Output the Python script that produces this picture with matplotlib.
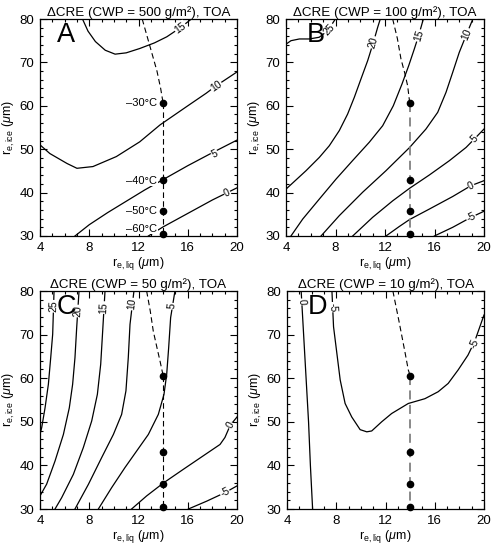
import numpy as np
import matplotlib.pyplot as plt
from matplotlib.ticker import MultipleLocator

plt.rcParams['font.family'] = ['Liberation Sans', 'DejaVu Sans']
plt.rcParams['mathtext.fontset'] = 'custom'
plt.rcParams['mathtext.rm'] = 'Liberation Sans'
plt.rcParams['mathtext.it'] = 'Liberation Sans:italic'

# temperature points on the dashed path (x = r_e,liq, y = r_e,ice)
temp_x = 14.0
temp_y = [60.6, 43.0, 35.8, 30.4]
temp_labels = ['\u201330\u00b0C', '\u201340\u00b0C', '\u201350\u00b0C', '\u201360\u00b0C']

cwp_values = [500, 100, 50, 10]
panel_letters = ['A', 'B', 'C', 'D']

# ---- panel A (CWP = 500) contour lines
a15_x = [7.45, 7.9, 8.5, 9.3, 10.1, 11.0, 12.1, 13.3, 14.3, 15.4, 16.3]
a15_y = [80, 77.2, 74.8, 72.8, 71.9, 72.2, 73.2, 74.5, 75.9, 78.0, 80]
a10_x = [4, 4.8, 6.2, 7.0, 8.3, 10.2, 12.1, 13.75, 15.9, 17.5, 18.3, 20]
a10_y = [51.0, 49.0, 46.7, 45.6, 46.0, 48.3, 51.7, 55.6, 59.8, 62.9, 64.6, 67.8]
a5_x = [6.84, 8, 9.5, 11, 12.5, 14, 16, 18, 20]
a5_y = [30, 32.6, 35.4, 38.0, 40.6, 43.0, 46.2, 49.2, 52.1]
a0_x = [12.8, 14, 16, 18, 20]
a0_y = [30, 32.1, 35.2, 38.3, 41.1]
a_dash_x = [12.3, 12.7, 13.1, 13.5, 13.8, 14.0, 14.0]
a_dash_y = [80, 76, 72, 68, 64, 60.6, 30]

# ---- panel B (CWP = 100)
b25_x = [4, 4.4, 5.08, 5.89, 6.69, 7.37, 7.9, 7.99]
b25_y = [74.2, 75.0, 75.4, 75.4, 75.8, 77.3, 79.6, 80]
b20_x = [4, 5.62, 6.69, 7.50, 8.31, 8.98, 9.52, 10.06, 10.60, 11.06, 11.41, 11.62]
b20_y = [40.8, 45.05, 48.1, 50.8, 54.3, 58.1, 61.95, 66.2, 70.4, 74.6, 78.1, 80]
b15_x = [4.40, 5.35, 6.69, 8.04, 9.39, 10.73, 11.81, 12.67, 13.37, 13.91, 14.37, 14.72, 15.1]
b15_y = [30, 33.9, 38.5, 43.1, 47.4, 51.6, 55.4, 60.0, 65.0, 69.2, 73.1, 76.2, 80]
b10_x = [6.83, 8.31, 10.2, 12.08, 13.99, 15.31, 16.26, 16.93, 17.47, 18.0, 18.55, 19.1]
b10_y = [30, 34.7, 40.1, 45.05, 50.4, 54.65, 58.5, 63.1, 67.7, 72.3, 76.2, 80]
b5_x = [9.39, 11.0, 12.62, 13.99, 15.58, 17.2, 18.55, 19.22, 20]
b5_y = [30, 34.3, 38.1, 41.0, 44.05, 47.35, 50.4, 52.35, 54.65]
b0_x = [12.08, 13.16, 13.99, 15.58, 17.47, 18.95, 20]
b0_y = [30, 32.2, 33.8, 36.2, 39.1, 41.6, 42.75]
bm5_x = [15.99, 17.47, 18.95, 20]
bm5_y = [30, 32.0, 34.3, 35.7]
b_dash_x = [12.62, 13.0, 13.29, 13.6, 13.83, 14.0, 14.0]
b_dash_y = [80, 75.5, 70.8, 67.5, 64.6, 60.6, 30]

# ---- panel C (CWP = 50)
c25_x = [4, 4.14, 4.41, 4.68, 4.87, 5.03, 5.14]
c25_y = [47.1, 48.7, 53.2, 58.6, 64.7, 70.1, 80]
c20_x = [4, 4.54, 5.22, 5.9, 6.38, 6.65, 6.84, 6.98, 7.17]
c20_y = [33.0, 35.7, 41.0, 47.1, 53.2, 58.6, 64.7, 71.6, 80]
c15_x = [5.22, 5.76, 6.71, 7.52, 8.2, 8.66, 8.93, 9.09, 9.28]
c15_y = [30, 32.6, 37.95, 44.1, 50.2, 56.3, 63.2, 70.8, 80]
c10_x = [6.84, 7.93, 9.01, 9.96, 10.63, 10.98, 11.17, 11.31, 11.63]
c10_y = [30, 35.65, 41.8, 47.1, 51.7, 57.1, 64.7, 72.35, 80]
c5_x = [8.74, 9.82, 10.9, 11.85, 12.8, 13.61, 14.07, 14.29, 14.45, 14.61, 14.96]
c5_y = [30, 34.9, 39.5, 43.3, 47.1, 51.7, 56.3, 60.9, 67.0, 73.9, 80]
c0_x = [11.44, 12.66, 14.04, 15.64, 17.26, 18.62, 19.02, 19.45, 20]
c0_y = [30, 33.0, 36.0, 39.1, 42.2, 44.8, 46.4, 49.2, 51.1]
cm5_x = [16.05, 17.54, 19.02, 20]
cm5_y = [30, 31.8, 33.75, 35.3]
c_dash_x = [12.66, 12.95, 13.2, 13.5, 13.75, 14.0, 14.0]
c_dash_y = [80, 75.5, 70.8, 67.0, 63.9, 60.6, 30]

# ---- panel D (CWP = 10)
d0_x = [5.15, 5.35, 5.55, 5.75, 5.9, 6.08]
d0_y = [80, 70, 60, 50, 40, 30]
dm5_x = [7.65, 7.78, 8.05, 8.32, 8.72, 9.26, 9.94, 10.48, 10.88, 11.69, 12.5,
         13.85, 15.2, 16.28, 17.09, 17.9, 18.7, 19.25, 20]
dm5_y = [80, 71.8, 65.7, 59.6, 54.2, 51.1, 48.2, 47.7, 47.9, 50.0, 51.9,
         54.2, 55.3, 56.9, 58.8, 61.9, 65.3, 68.5, 74.5]
d_dash_x = [12.6, 13.1, 13.6, 13.85, 14.0, 14.0]
d_dash_y = [80, 73, 65.7, 61.9, 60.6, 30]

panels = [
    dict(lines=[(a15_x, a15_y), (a10_x, a10_y), (a5_x, a5_y), (a0_x, a0_y)],
         labels=[('15', 15.4, 78.0, 0), ('10', 18.3, 64.6, 1), ('5', 18.2, 48.9, 2), ('0', 19.2, 39.9, 3)],
         dash=(a_dash_x, a_dash_y), dcol='k', dlw=0.8, letter_x=5.35, rect=[40, 19, 237, 236]),
    dict(lines=[(b25_x, b25_y), (b20_x, b20_y), (b15_x, b15_y), (b10_x, b10_y),
                (b5_x, b5_y), (b0_x, b0_y), (bm5_x, bm5_y)],
         labels=[('25', 7.5, 77.6, 0), ('20', 11.06, 74.6, 1), ('15', 14.72, 76.2, 2), ('10', 18.6, 76.5, 3),
                 ('5', 19.22, 52.35, 4), ('0', 18.95, 41.6, 5), ('-5', 18.95, 34.3, 6)],
         dash=(b_dash_x, b_dash_y), dcol='0.5', dlw=1.3, letter_x=5.67, rect=[286, 19, 484, 236]),
    dict(lines=[(c25_x, c25_y), (c20_x, c20_y), (c15_x, c15_y), (c10_x, c10_y),
                (c5_x, c5_y), (c0_x, c0_y), (cm5_x, cm5_y)],
         labels=[('25', 5.1, 76.5, 0), ('20', 7.1, 75.4, 1), ('15', 9.2, 76.2, 2), ('10', 11.5, 77.0, 3),
                 ('5', 14.75, 76.5, 4), ('0', 19.45, 49.2, 5), ('-5', 19.02, 33.75, 6)],
         dash=(c_dash_x, c_dash_y), dcol='k', dlw=0.8, letter_x=5.35, rect=[40, 291, 237, 509]),
    dict(lines=[(d0_x, d0_y), (dm5_x, dm5_y)],
         labels=[('0', 5.2, 77.5, 0), ('-5', 7.7, 76.3, 1), ('-5', 19.2, 68.0, 1)],
         dash=(d_dash_x, d_dash_y), dcol='0.5', dlw=1.3, letter_x=5.7, rect=[287, 291, 484, 509]),
]

W, H = 492, 546
fig = plt.figure(figsize=(W / 100, H / 100), dpi=100)


def label_angle(ax, xs, ys, lx, ly):
    pts = ax.transData.transform(np.column_stack([xs, ys]))
    p = ax.transData.transform((lx, ly))
    d = np.hypot(pts[:, 0] - p[0], pts[:, 1] - p[1])
    i = int(np.argmin(d))
    i0, i1 = max(i - 1, 0), min(i + 1, len(xs) - 1)
    dx, dy = pts[i1] - pts[i0]
    ang = np.degrees(np.arctan2(dy, dx))
    if ang > 90:
        ang -= 180
    elif ang <= -90:
        ang += 180
    return ang


for k, p in enumerate(panels):
    l, t, r, b = p['rect']
    ax = fig.add_axes([l / W, 1 - b / H, (r - l) / W, (b - t) / H])
    ax.set_xlim(4, 20)
    ax.set_ylim(30, 80)
    ax.xaxis.set_major_locator(MultipleLocator(4))
    ax.xaxis.set_minor_locator(MultipleLocator(1))
    ax.yaxis.set_major_locator(MultipleLocator(10))
    ax.yaxis.set_minor_locator(MultipleLocator(2))
    ax.tick_params(which='both', direction='in', top=True, right=True, labelsize=9.5, width=0.8)
    ax.tick_params(which='major', length=5, pad=4)
    ax.tick_params(which='minor', length=2.5)
    for s in ax.spines.values():
        s.set_linewidth(0.9)

    for xs, ys in p['lines']:
        ax.plot(xs, ys, color='k', lw=0.9, zorder=2)
    for txt, lx, ly, li in p['labels']:
        xs, ys = p['lines'][li]
        ang = label_angle(ax, xs, ys, lx, ly)
        ax.text(lx, ly, txt, fontsize=7.5, rotation=ang, rotation_mode='anchor',
                ha='center', va='center', zorder=3,
                bbox=dict(boxstyle='square,pad=0.05', fc='white', ec='none'))

    dx, dy = p['dash']
    ax.plot(dx[:-1], dy[:-1], color='k', lw=0.8, ls=(0, (5, 3)), zorder=2)
    ax.plot(dx[-2:], dy[-2:], color=p['dcol'], lw=p['dlw'], ls=(0, (5, 3)), zorder=2)
    ax.plot([temp_x] * len(temp_y), temp_y, 'o', color='k', ms=4.5, zorder=4, clip_on=False)

    if k == 0:
        for ty, tl, off in zip(temp_y, temp_labels, [0, -0.3, 0, 1.3]):
            ax.text(13.5, ty + off, tl, fontsize=8, ha='right', va='center', zorder=5,
                    bbox=dict(boxstyle='square,pad=0.05', fc='white', ec='none'))

    ax.text(p['letter_x'], 76.3, panel_letters[k], fontsize=19.5, ha='left', va='center', zorder=5)
    ax.set_title('\u0394CRE (CWP = %d g/m\u00b2), TOA' % cwp_values[k], fontsize=9.6, pad=2.5)
    ax.set_xlabel('r$_\\mathrm{e,liq}$ ($\\mu$m)', fontsize=9, labelpad=1)
    ax.set_ylabel('r$_\\mathrm{e,ice}$ ($\\mu$m)', fontsize=9, labelpad=2)

fig.savefig('out.png', dpi=100)
